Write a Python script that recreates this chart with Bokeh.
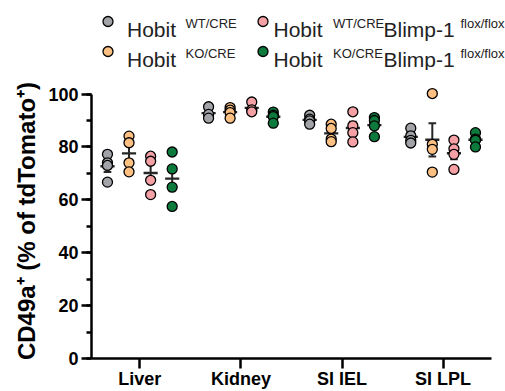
import numpy as np
from bokeh.plotting import figure
from bokeh.layouts import column
from bokeh.models import Range1d, FixedTicker, SingleIntervalTicker
from bokeh.core.properties import value
from bokeh.embed import file_html
from bokeh.resources import INLINE

# ---------------- data ----------------
categories = ["Liver", "Kidney", "SI IEL", "SI LPL"]

hobit_wt_cre = [[77.2, 74.0, 73.0, 66.7],
                [95.2, 92.3, 90.9],
                [92.0, 90.5, 89.9, 88.6],
                [87.1, 84.2, 82.5, 81.5]]
hobit_ko_cre = [[84.1, 81.6, 74.0, 70.6],
                [94.9, 93.9, 93.0, 90.9],
                [88.6, 87.0, 83.0, 82.0],
                [100.2, 81.0, 79.1, 70.5]]
hobit_wt_cre_blimp = [[76.5, 74.6, 67.4, 62.0],
                      [97.0, 94.0, 93.3],
                      [93.3, 88.0, 85.4, 81.9],
                      [82.6, 79.3, 77.2, 71.5]]
hobit_ko_cre_blimp = [[78.1, 71.7, 64.8, 57.5],
                      [93.2, 92.0, 91.5, 89.0],
                      [91.1, 90.0, 88.0, 83.9],
                      [85.4, 83.0, 82.5, 80.0]]

series = [hobit_wt_cre, hobit_ko_cre, hobit_wt_cre_blimp, hobit_ko_cre_blimp]
series_colors = ["#a2a3a8", "#fdc083", "#f4a0a4", "#0c7a3c"]
series_offsets = [-0.32, -0.107, 0.107, 0.32]

legend_names = ["Hobit", "Hobit", "Hobit", "Hobit"]
legend_sups = ["WT/CRE", "KO/CRE", "WT/CRE", "KO/CRE"]
legend_suffix = ["", "", "Blimp-1", "Blimp-1"]
legend_suffix_sups = ["", "", "flox/flox", "flox/flox"]

FONT = "Liberation Sans"

# layout constants (pixels)
FRAME_LEFT = 91
FRAME_RIGHT = 505
CAT_PX = 101.1          # pixels per category
X0 = -0.478             # data value at frame left
AXIS_END = 3.479        # data value where x axis line stops

# ---------------- main plot ----------------
p = figure(width=505, height=321,
           x_range=Range1d(X0, X0 + (FRAME_RIGHT - FRAME_LEFT) / CAT_PX),
           y_range=Range1d(0, 104),
           output_backend="svg", toolbar_location=None,
           min_border_left=FRAME_LEFT, min_border_right=0, min_border_top=13, min_border_bottom=33)
p.outline_line_color = None
p.xgrid.visible = False
p.ygrid.visible = False
p.background_fill_color = "white"
p.border_fill_color = "white"

for vals, col, off in zip(series, series_colors, series_offsets):
    xs, ys = [], []
    mx, my, sem = [], [], []
    for ci, v in enumerate(vals):
        xs += [ci + off] * len(v)
        ys += list(v)
        arr = np.array(v)
        mx.append(ci + off)
        my.append(arr.mean())
        sem.append(arr.std(ddof=1) / np.sqrt(len(arr)))
    mx = np.array(mx); my = np.array(my); sem = np.array(sem)
    ec = "#262626"
    p.segment(x0=mx, y0=my - sem, x1=mx, y1=my + sem, line_color=ec, line_width=2)
    p.segment(x0=mx - 0.038, y0=my + sem, x1=mx + 0.038, y1=my + sem, line_color=ec, line_width=2)
    p.segment(x0=mx - 0.038, y0=my - sem, x1=mx + 0.038, y1=my - sem, line_color=ec, line_width=2)
    p.segment(x0=mx - 0.07, y0=my, x1=mx + 0.07, y1=my, line_color=ec, line_width=2.4)
    p.scatter(xs, ys, size=10, fill_color=col, line_color="black", line_width=1.3)

# x axis
xa = p.xaxis[0]
xa.ticker = FixedTicker(ticks=list(range(len(categories))))
xa.major_label_overrides = {i: c for i, c in enumerate(categories)}
xa.bounds = (X0, AXIS_END)
xa.major_tick_out = 10
xa.major_tick_in = 0
xa.minor_tick_out = 0
xa.minor_tick_in = 0
xa.axis_line_width = 2.5
xa.major_tick_line_width = 2.5
xa.axis_line_color = "black"
xa.major_tick_line_color = "black"
xa.major_label_standoff = 0
xa.major_label_text_font = FONT
xa.major_label_text_font_style = "bold"
xa.major_label_text_font_size = "18px"
xa.major_label_text_color = "black"

# y axis
ya = p.yaxis[0]
ya.ticker = SingleIntervalTicker(interval=20, num_minor_ticks=2)
ya.bounds = (0, 100)
ya.major_tick_out = 10
ya.major_tick_in = 0
ya.minor_tick_out = 5
ya.minor_tick_in = 0
ya.axis_line_width = 2.5
ya.major_tick_line_width = 2.5
ya.minor_tick_line_width = 2.5
ya.axis_line_color = "black"
ya.major_tick_line_color = "black"
ya.minor_tick_line_color = "black"
ya.major_label_standoff = 3
ya.major_label_text_font = FONT
ya.major_label_text_font_style = "bold"
ya.major_label_text_font_size = "18px"
ya.major_label_text_color = "black"
ya.axis_label = "CD49a\u207a (% of tdTomato\u207a)"
ya.axis_label_text_font = FONT
ya.axis_label_text_font_style = "bold"
ya.axis_label_text_font_size = "24px"
ya.axis_label_text_color = "black"
ya.axis_label_standoff = 5

# ---------------- legend strip (pixel coordinates) ----------------
lg = figure(width=505, height=70, x_range=Range1d(FRAME_LEFT, FRAME_RIGHT), y_range=Range1d(70, 0),
            output_backend="svg", toolbar_location=None, x_axis_type=None, y_axis_type=None,
            min_border_left=FRAME_LEFT, min_border_right=0, min_border_top=0, min_border_bottom=0)
lg.outline_line_color = None
lg.xgrid.visible = False
lg.ygrid.visible = False

dot_x = [107.5, 107.5, 262.5, 262.5]
row_y = [21, 51, 21, 51]
name_x = [126.5, 126.5, 273, 273]
sup_x = [185, 185, 332.5, 332.5]
suffix_x = [383, 383]
suffix_sup_x = [460, 460]

lg.scatter(dot_x, row_y, size=10, fill_color=series_colors, line_color="black", line_width=1.3)
base = [y + 7.5 for y in row_y]
sup_base = [y + 1.8 for y in row_y]
tc = "#222222"
lg.text(x=name_x, y=base, text=legend_names, text_font=value(FONT), text_font_size="21px",
        text_baseline="alphabetic", text_align="left", text_color=tc)
lg.text(x=sup_x, y=sup_base, text=legend_sups, text_font=value(FONT), text_font_size="13px",
        text_baseline="alphabetic", text_align="left", text_color=tc)
lg.text(x=suffix_x, y=base[2:], text=legend_suffix[2:], text_font=value(FONT), text_font_size="21px",
        text_baseline="alphabetic", text_align="left", text_color=tc)
lg.text(x=suffix_sup_x, y=sup_base[2:], text=legend_suffix_sups[2:], text_font=value(FONT),
        text_font_size="13px", text_baseline="alphabetic", text_align="left", text_color=tc)

layout = column(lg, p, spacing=0)
open("out.html", "w").write(file_html(layout, INLINE))
